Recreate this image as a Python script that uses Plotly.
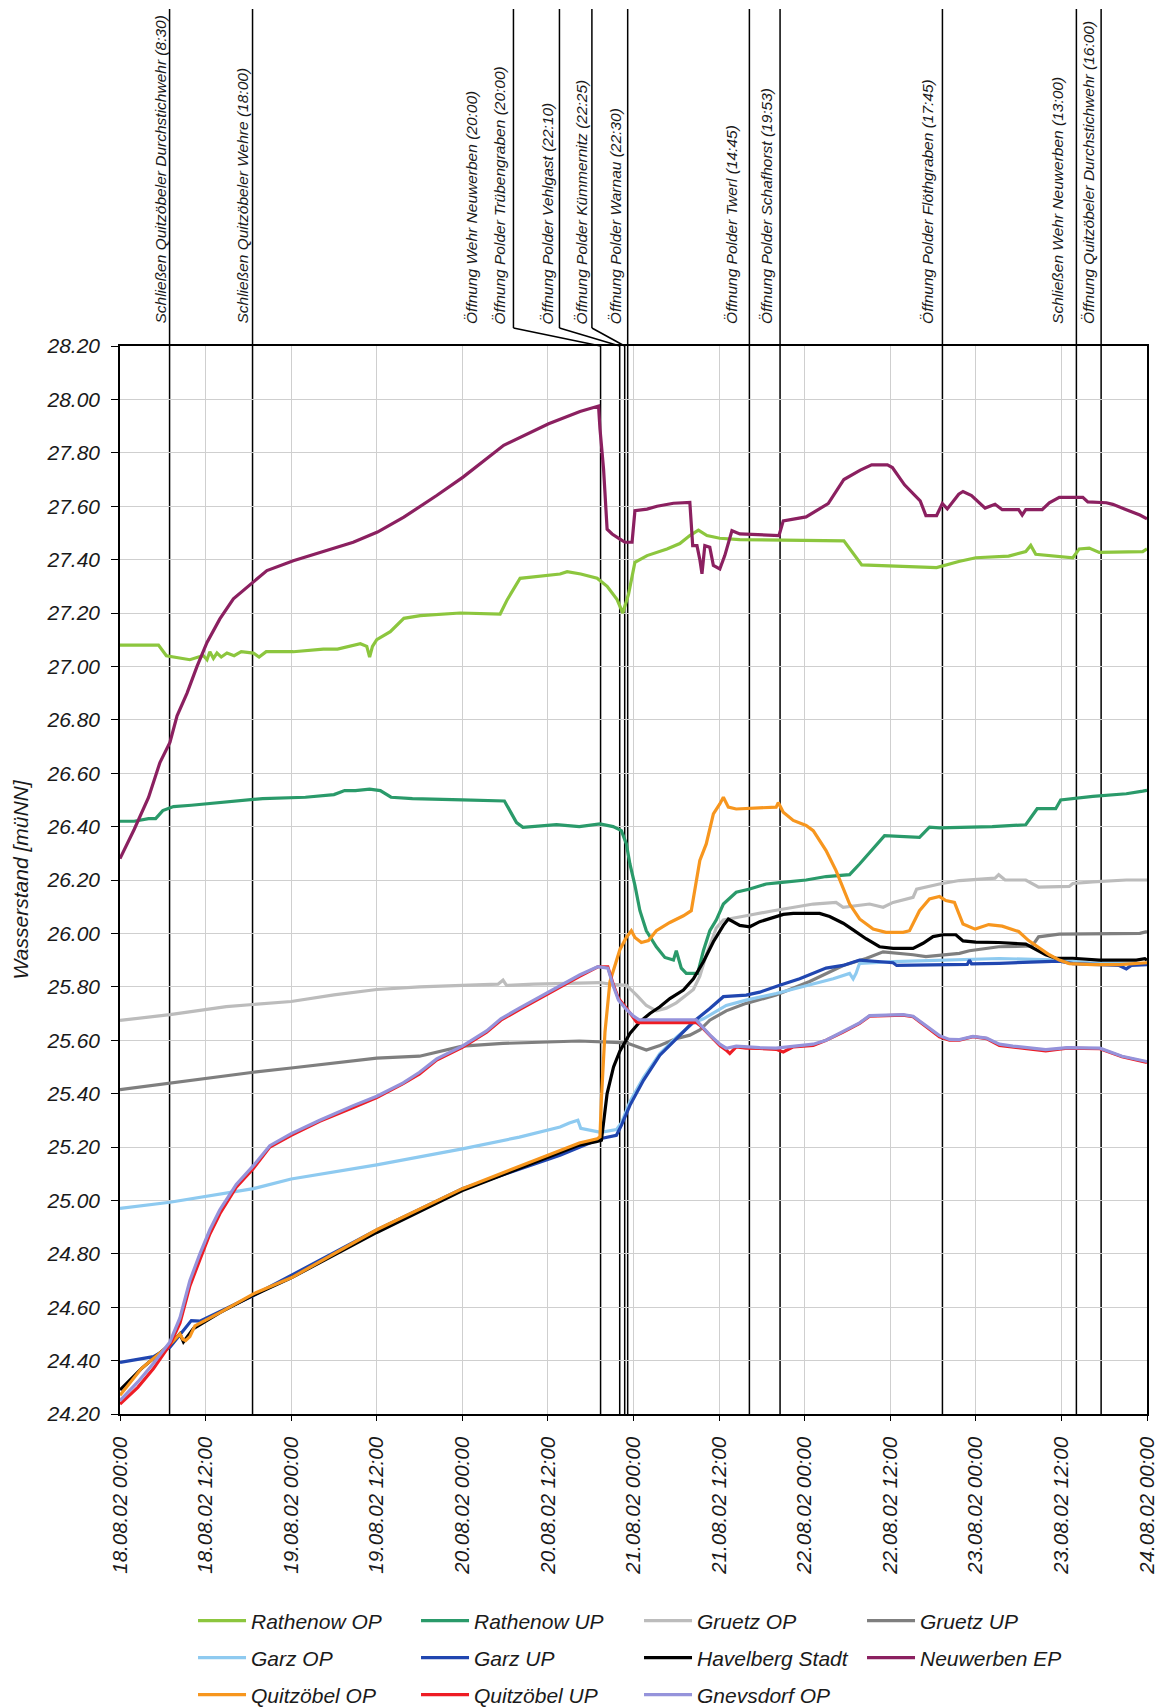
import pandas as pd
import plotly.graph_objects as go

T0 = pd.Timestamp("2002-08-18 00:00")
T_END = pd.Timestamp("2002-08-24 00:00")

# Gauge readings: (hours after 18.08.02 00:00, water level [m ü. NN])
rathenow_op = [
    (0, 27.08), (5.4, 27.08), (6.5, 27.04), (7.5, 27.035), (9.8, 27.025), (11.0, 27.035),
    (11.7, 27.04), (12.2, 27.025), (12.6, 27.055), (13.1, 27.03), (13.6, 27.05), (14.2, 27.035),
    (15.0, 27.05), (16.0, 27.04), (17.0, 27.055), (18.7, 27.05), (19.5, 27.035), (20.5, 27.055),
    (24.3, 27.055), (28.5, 27.065), (30.5, 27.065), (33.7, 27.085), (34.6, 27.075), (35.0, 27.035),
    (35.4, 27.075), (36.0, 27.10), (37.9, 27.13), (39.8, 27.18), (42.1, 27.19), (47.7, 27.20),
    (53.3, 27.196), (54.3, 27.25), (56.1, 27.33), (61.7, 27.346), (62.7, 27.355), (64.6, 27.346),
    (66.9, 27.33), (68.3, 27.30), (69.7, 27.25), (70.5, 27.20), (71.3, 27.27), (72.2, 27.39),
    (73.9, 27.415), (76.7, 27.44), (78.5, 27.46), (79.9, 27.49), (81.1, 27.51), (82.3, 27.49),
    (84.1, 27.48), (86.9, 27.475), (101.5, 27.47), (104.0, 27.38), (114.5, 27.37), (117.6, 27.393),
    (120.0, 27.407), (124.6, 27.413), (127.0, 27.43), (127.7, 27.453), (128.4, 27.42), (133.6, 27.407),
    (134.5, 27.44), (135.9, 27.443), (137.3, 27.427), (143.4, 27.43), (144, 27.44),
]
rathenow_up = [
    (0, 26.42), (2, 26.42), (4, 26.43), (5, 26.43), (6, 26.46), (7.5, 26.475), (10, 26.48),
    (12, 26.485), (14, 26.49), (17, 26.50), (20, 26.505), (26, 26.51), (30, 26.52), (31.5, 26.535),
    (33, 26.535), (35, 26.54), (36.5, 26.535), (38, 26.51), (41, 26.505), (48, 26.50), (53.9, 26.496),
    (55.6, 26.415), (56.5, 26.397), (61.2, 26.407), (64.4, 26.40), (67.3, 26.41), (69.15, 26.40),
    (70.3, 26.385), (71.0, 26.335), (71.5, 26.26), (72.2, 26.18), (72.9, 26.085), (73.8, 26.01),
    (75.2, 25.95), (76.4, 25.91), (77.6, 25.90), (78.0, 25.935), (78.7, 25.87), (79.4, 25.85),
    (81.0, 25.85), (81.8, 25.935), (82.7, 26.01), (83.6, 26.05), (84.6, 26.11), (86.4, 26.154),
    (88.3, 26.166), (90.6, 26.185), (92.5, 26.19), (96.2, 26.20), (99.0, 26.213), (102.3, 26.22),
    (103.7, 26.26), (105.6, 26.32), (107.2, 26.366), (112.1, 26.36), (113.5, 26.398), (114.9, 26.395),
    (122.3, 26.40), (127.0, 26.407), (127.7, 26.433), (128.6, 26.467), (131.2, 26.467), (131.9, 26.50),
    (136.4, 26.513), (141.1, 26.523), (143.4, 26.533), (144, 26.536),
]
gruetz_op = [
    (0, 25.674), (7, 25.696), (14.9, 25.726), (24, 25.745), (30, 25.77), (36, 25.79), (42, 25.80),
    (48, 25.804), (53.0, 25.81), (53.7, 25.825), (54.2, 25.805), (58, 25.81), (64.4, 25.815),
    (67.3, 25.816), (68.7, 25.81), (71.0, 25.806), (72.4, 25.77), (73.8, 25.73), (75.2, 25.71),
    (76.6, 25.72), (78.0, 25.74), (79.4, 25.77), (80.4, 25.79), (81.3, 25.84), (82.2, 25.92),
    (83.2, 25.99), (83.6, 26.02), (84.6, 26.05), (85.5, 26.054), (87.8, 26.066), (91.6, 26.085),
    (94.4, 26.098), (97.2, 26.11), (100.4, 26.116), (101.4, 26.098), (105.1, 26.11), (107.0, 26.098),
    (108.4, 26.116), (111.2, 26.135), (111.7, 26.166), (114.9, 26.185), (117.7, 26.198), (122.7, 26.207),
    (123.2, 26.22), (124.1, 26.20), (127.0, 26.20), (128.8, 26.173), (133.1, 26.176), (133.6, 26.187),
    (136.4, 26.193), (141.1, 26.20), (144, 26.20),
]
gruetz_up = [
    (0, 25.415), (7, 25.44), (18.7, 25.48), (24, 25.496), (36, 25.533), (42, 25.54), (48, 25.578),
    (53.7, 25.588), (64.4, 25.597), (71.0, 25.59), (72.4, 25.575), (73.8, 25.563), (75.7, 25.58),
    (78.0, 25.606), (79.9, 25.619), (81.3, 25.638), (82.7, 25.675), (85.0, 25.71), (87.8, 25.738),
    (92.0, 25.769), (96.7, 25.82), (101.4, 25.88), (104.6, 25.906), (107.0, 25.931), (111.2, 25.92),
    (113.0, 25.913), (117.7, 25.925), (119.1, 25.935), (123.2, 25.95), (127.9, 25.953), (128.8, 25.987),
    (131.7, 25.997), (143, 26.0), (144, 26.007),
]
garz_op = [
    (0, 24.97), (7, 24.993), (18.7, 25.044), (24, 25.08), (36, 25.133), (42, 25.163), (48, 25.193),
    (56, 25.237), (61.7, 25.275), (63.0, 25.29), (64.2, 25.30), (64.6, 25.27), (66.4, 25.26),
    (67.4, 25.255), (69.6, 25.265), (70.3, 25.29), (71.5, 25.37), (73.4, 25.46), (75.7, 25.55),
    (78.0, 25.61), (80.4, 25.665), (81.8, 25.68), (85.0, 25.73), (87.8, 25.75), (92.0, 25.775),
    (96.7, 25.806), (100.0, 25.83), (102.3, 25.85), (102.8, 25.83), (103.2, 25.85), (103.7, 25.888),
    (108.4, 25.894), (117.7, 25.90), (123.3, 25.906), (131.7, 25.90), (136, 25.89), (144, 25.885),
]
garz_up = [
    (0, 24.393), (4.7, 24.415), (7, 24.45), (9.3, 24.526), (10, 24.55), (11.2, 24.548), (18.7, 24.644),
    (36, 24.889), (48, 25.044), (61.7, 25.169), (64.5, 25.20), (67.3, 25.231), (69.6, 25.244),
    (70.3, 25.281), (71.5, 25.356), (73.4, 25.45), (75.7, 25.544), (78.0, 25.606), (80.4, 25.669),
    (82.7, 25.719), (84.6, 25.763), (87.8, 25.769), (89.7, 25.78), (92.5, 25.806), (95.3, 25.83),
    (99.0, 25.87), (101.4, 25.88), (103.7, 25.90), (108.4, 25.89), (108.9, 25.88), (117.7, 25.884),
    (118.8, 25.884), (119.1, 25.90), (119.4, 25.886), (123.3, 25.888), (131.7, 25.896), (133.6, 25.887),
    (140.1, 25.88), (141.1, 25.867), (141.8, 25.88), (144, 25.883),
]
havelberg_stadt = [
    (0, 24.29), (3, 24.37), (7, 24.46), (8.4, 24.50), (8.9, 24.47), (9.5, 24.49), (10.3, 24.52),
    (14, 24.58), (18.7, 24.645), (24, 24.71), (36, 24.88), (48, 25.037), (61.7, 25.18), (64.4, 25.207),
    (66.9, 25.221), (67.5, 25.225), (68.3, 25.40), (69.2, 25.50), (70.1, 25.56), (71.5, 25.625),
    (72.9, 25.669), (74.3, 25.70), (75.7, 25.725), (77.1, 25.756), (79.0, 25.788), (80.4, 25.83),
    (81.8, 25.894), (83.2, 25.969), (84.6, 26.03), (85.3, 26.054), (86.9, 26.03), (88.3, 26.025),
    (89.7, 26.044), (91.6, 26.059), (93.0, 26.071), (94.4, 26.075), (98.1, 26.075), (99.5, 26.063),
    (101.4, 26.038), (102.8, 26.013), (104.6, 25.98), (106.5, 25.95), (108.4, 25.944), (111.2, 25.944),
    (112.6, 25.963), (114.0, 25.988), (115.4, 25.995), (117.2, 25.995), (118.2, 25.972), (120.0, 25.967),
    (123.2, 25.966), (127.0, 25.96), (127.9, 25.947), (129.8, 25.92), (131.2, 25.907), (133.6, 25.907),
    (137.3, 25.90), (142.5, 25.90), (143.7, 25.905), (144, 25.90),
]
neuwerben_ep = [
    (0, 26.28), (2, 26.39), (4.0, 26.509), (5.6, 26.64), (7.0, 26.715), (8.0, 26.815), (9.4, 26.90),
    (10.8, 27.0), (12.2, 27.09), (14.0, 27.178), (15.9, 27.253), (18.6, 27.313), (20.6, 27.359),
    (24.3, 27.396), (28.1, 27.428), (32.7, 27.465), (36.1, 27.503), (39.8, 27.559), (44.4, 27.64),
    (48.1, 27.709), (53.8, 27.828), (60.1, 27.909), (64.5, 27.955), (66.7, 27.971), (67.1, 27.975),
    (67.3, 27.89), (67.8, 27.74), (68.3, 27.514), (69.0, 27.496), (70.1, 27.477), (70.8, 27.465),
    (71.8, 27.465), (72.2, 27.583), (73.9, 27.589), (75.3, 27.60), (77.6, 27.611), (79.9, 27.614),
    (80.3, 27.452), (80.9, 27.452), (81.3, 27.40), (81.6, 27.347), (82.0, 27.452), (82.7, 27.446),
    (83.2, 27.378), (84.1, 27.365), (84.8, 27.415), (85.8, 27.508), (86.9, 27.496), (92.4, 27.49),
    (93.0, 27.545), (96.2, 27.56), (99.3, 27.61), (101.5, 27.70), (103.8, 27.735), (105.4, 27.755),
    (107.6, 27.755), (108.3, 27.745), (110.0, 27.68), (112.2, 27.62), (113.0, 27.565), (114.5, 27.565),
    (115.3, 27.61), (116.0, 27.59), (117.6, 27.645), (118.2, 27.655), (119.4, 27.64), (121.3, 27.593),
    (122.7, 27.607), (123.7, 27.587), (126.0, 27.587), (126.5, 27.567), (127.0, 27.587), (129.3, 27.587),
    (130.3, 27.613), (131.7, 27.633), (135.0, 27.633), (135.7, 27.616), (138.3, 27.613), (139.2, 27.607),
    (141.1, 27.587), (143.0, 27.567), (144, 27.553),
]
quitzoebel_op = [
    (0, 24.27), (3, 24.37), (7, 24.46), (8.4, 24.50), (8.8, 24.48), (9.2, 24.475), (9.8, 24.49),
    (10.5, 24.53), (14, 24.58), (18.7, 24.65), (24, 24.71), (36, 24.89), (48, 25.044), (61.7, 25.188),
    (64.4, 25.215), (66.9, 25.231), (67.3, 25.238), (67.5, 25.38), (68.0, 25.63), (68.7, 25.82),
    (69.4, 25.88), (70.1, 25.94), (71.0, 25.985), (71.7, 26.01), (72.2, 25.985), (73.1, 25.966),
    (74.1, 25.973), (75.2, 26.01), (77.1, 26.041), (79.0, 26.066), (80.1, 26.085), (80.6, 26.16),
    (81.3, 26.273), (82.2, 26.335), (83.2, 26.448), (84.1, 26.485), (84.6, 26.51), (85.3, 26.473),
    (86.4, 26.466), (92.0, 26.473), (92.3, 26.49), (93.0, 26.454), (94.4, 26.423), (96.2, 26.404),
    (97.2, 26.385), (99.0, 26.31), (100.4, 26.235), (102.3, 26.11), (103.7, 26.054), (105.6, 26.016),
    (107.4, 26.004), (109.8, 26.004), (110.7, 26.01), (112.1, 26.085), (113.5, 26.129), (114.9, 26.138),
    (115.8, 26.123), (117.0, 26.116), (118.2, 26.035), (119.9, 26.016), (121.8, 26.033), (123.7, 26.027),
    (126.0, 26.007), (127.4, 25.973), (128.8, 25.947), (130.3, 25.92), (131.7, 25.90), (133.1, 25.887),
    (136.4, 25.883), (140.1, 25.883), (144, 25.89),
]
quitzoebel_up = [
    (0, 24.237), (2.5, 24.30), (4.7, 24.37), (7.0, 24.46), (8.4, 24.54), (9.8, 24.68), (11.2, 24.778),
    (12.6, 24.874), (14.0, 24.95), (16.3, 25.05), (18.7, 25.12), (21, 25.20), (24, 25.244), (28, 25.296),
    (32.7, 25.348), (36, 25.385), (39.7, 25.437), (42, 25.474), (44.4, 25.526), (48, 25.573),
    (51.4, 25.63), (53.4, 25.675), (56, 25.715), (60, 25.775), (61.7, 25.80), (64.5, 25.84),
    (67.0, 25.875), (68.4, 25.875), (69.2, 25.806), (69.9, 25.756), (71.0, 25.72), (72.4, 25.669),
    (72.8, 25.666), (80.8, 25.666), (81.3, 25.656), (82.7, 25.619), (84.1, 25.58), (85.0, 25.563),
    (85.5, 25.55), (86.4, 25.575), (87.8, 25.57), (89.7, 25.569), (92.0, 25.566), (93.0, 25.556),
    (94.4, 25.575), (97.2, 25.58), (99.0, 25.60), (101.4, 25.63), (103.7, 25.663), (105.1, 25.69),
    (109.8, 25.694), (111.2, 25.688), (113.0, 25.65), (114.9, 25.613), (116.3, 25.60), (117.7, 25.60),
    (119.6, 25.613), (121.5, 25.606), (123.3, 25.58), (125.2, 25.575), (129.8, 25.56), (132.8, 25.57),
    (137.4, 25.568), (140.5, 25.538), (144, 25.517),
]
gnevsdorf_op = [
    (0, 24.25), (2.5, 24.32), (4.7, 24.39), (7.0, 24.47), (8.4, 24.56), (9.8, 24.70), (11.2, 24.80),
    (12.6, 24.89), (14.0, 24.965), (16.3, 25.06), (18.7, 25.13), (21, 25.205), (24, 25.25), (28, 25.30),
    (32.7, 25.355), (36, 25.39), (39.7, 25.44), (42, 25.48), (44.4, 25.53), (48, 25.578), (51.4, 25.635),
    (53.4, 25.68), (56, 25.72), (60, 25.78), (64.5, 25.845), (67.0, 25.875), (68.4, 25.87), (69.2, 25.80),
    (69.9, 25.75), (71.0, 25.715), (72.0, 25.69), (72.8, 25.676), (80.8, 25.676), (81.3, 25.66),
    (82.7, 25.62), (84.1, 25.585), (85.0, 25.57), (86.4, 25.578), (87.8, 25.575), (89.7, 25.572),
    (92.0, 25.57), (94.4, 25.578), (97.2, 25.585), (99.0, 25.60), (101.4, 25.632), (103.7, 25.665),
    (105.1, 25.692), (109.8, 25.696), (111.2, 25.69), (113.0, 25.655), (114.9, 25.617), (116.3, 25.603),
    (117.7, 25.602), (119.6, 25.614), (121.5, 25.608), (123.3, 25.585), (125.2, 25.578), (129.8, 25.565),
    (132.8, 25.572), (137.4, 25.57), (140.5, 25.54), (144, 25.52),
]

series = [
    ("Rathenow OP", rathenow_op, "#8cc63e"),
    ("Rathenow UP", rathenow_up, "#2a9a6a"),
    ("Gruetz OP", gruetz_op, "#bcbcbc"),
    ("Gruetz UP", gruetz_up, "#7f7f7f"),
    ("Garz OP", garz_op, "#8ecaf0"),
    ("Garz UP", garz_up, "#2046b0"),
    ("Havelberg Stadt", havelberg_stadt, "#000000"),
    ("Neuwerben EP", neuwerben_ep, "#8b2060"),
    ("Quitzöbel OP", quitzoebel_op, "#f7961e"),
    ("Quitzöbel UP", quitzoebel_up, "#ee1c24"),
    ("Gnevsdorf OP", gnevsdorf_op, "#9593db"),
]

# Operating events (weirs and polders), drawn as vertical markers
event_times = [
    "2002-08-18 06:57", "2002-08-18 18:35", "2002-08-20 19:23", "2002-08-20 22:04",
    "2002-08-20 22:46", "2002-08-20 23:11", "2002-08-21 16:15", "2002-08-21 20:33",
    "2002-08-22 19:19", "2002-08-23 14:06", "2002-08-23 17:34",
]
event_labels = [
    ("Schließen Quitzöbeler Durchstichwehr (8:30)", 0),
    ("Schließen Quitzöbeler Wehre (18:00)", 1),
    ("Öffnung Wehr Neuwerben (20:00)", 2),
    ("Öffnung Polder Trübengraben (20:00)", 2),
    ("Öffnung Polder Vehlgast (22:10)", 3),
    ("Öffnung Polder Kümmernitz (22:25)", 4),
    ("Öffnung Polder Warnau (22:30)", 5),
    ("Öffnung Polder Twerl (14:45)", 6),
    ("Öffnung Polder Schafhorst (19:53)", 7),
    ("Öffnung Polder Flöthgraben (17:45)", 8),
    ("Schließen Wehr Neuwerben (13:00)", 9),
    ("Öffnung Quitzöbeler Durchstichwehr (16:00)", 10),
]

# Layout of the label area above the plot
leader_x = {2: "2002-08-20 07:10", 3: "2002-08-20 13:37", 4: "2002-08-20 18:10"}
label_xshift = [-10, -11, -42, -14, -12, -10, -12.5, -18, -14, -15, -19, -12.5]
PLOT_H = 1068
LINE_TOP = 1 + 337 / PLOT_H
KINK_Y = 1 + 18 / PLOT_H

FONT = "Liberation Sans, Arial, sans-serif"
TEXT = "#1a1a1a"

fig = go.Figure()
legend_rows = ["legend"] * 4 + ["legend2"] * 4 + ["legend3"] * 3
for (name, pts, color), leg in zip(series, legend_rows):
    hours, levels = zip(*pts)
    fig.add_trace(go.Scatter(
        x=[T0 + pd.Timedelta(hours=h) for h in hours],
        y=list(levels),
        mode="lines",
        name=name,
        line=dict(color=color, width=3.2),
        legend=leg,
    ))

shapes = []
line_style = dict(color="black", width=1.5)
for i, t in enumerate(event_times):
    if i in leader_x:
        lx = leader_x[i]
        shapes.append(dict(type="line", xref="x", yref="paper", x0=lx, x1=lx,
                           y0=KINK_Y, y1=LINE_TOP, line=line_style, layer="above"))
        shapes.append(dict(type="line", xref="x", yref="paper", x0=lx, x1=t,
                           y0=KINK_Y, y1=1, line=line_style, layer="above"))
        shapes.append(dict(type="line", xref="x", yref="paper", x0=t, x1=t,
                           y0=0, y1=1, line=line_style, layer="between"))
    else:
        shapes.append(dict(type="line", xref="x", yref="paper", x0=t, x1=t,
                           y0=0, y1=LINE_TOP, line=line_style, layer="between"))

annotations = []
for (text, idx), dx in zip(event_labels, label_xshift):
    annotations.append(dict(
        text=text, x=leader_x.get(idx, event_times[idx]), xref="x",
        y=1, yref="paper", yshift=20, xshift=dx,
        xanchor="center", yanchor="bottom", textangle=-90, showarrow=False,
        font=dict(family=FONT, size=15.5, color=TEXT, style="italic"),
    ))

legend_common = dict(
    orientation="h", x=0.0711, xanchor="left", yanchor="middle",
    entrywidth=160, entrywidthmode="pixels", itemwidth=48,
    bgcolor="rgba(0,0,0,0)", borderwidth=0, traceorder="normal",
    font=dict(family=FONT, size=21, color=TEXT, style="italic"),
)

fig.update_layout(
    width=1160, height=1708,
    margin=dict(l=120, r=13, t=346, b=294, autoexpand=False),
    paper_bgcolor="white", plot_bgcolor="white",
    showlegend=True,
    legend=dict(legend_common, y=-0.1938),
    legend2=dict(legend_common, y=-0.2285),
    legend3=dict(legend_common, y=-0.2631),
    shapes=shapes,
    annotations=annotations,
    xaxis=dict(
        type="date", range=[T0, T_END], tick0=T0, dtick=12 * 3600 * 1000,
        tickformat="%d.%m.%y %H:%M", tickangle=-90,
        ticks="outside", ticklen=5, tickcolor="black", ticklabelstandoff=8,
        showgrid=True, gridcolor="#cfcfcf", gridwidth=1.2,
        showline=True, linecolor="black", linewidth=1.5, mirror=True,
        zeroline=False, automargin=False,
        tickfont=dict(family=FONT, size=20.5, color=TEXT, style="italic"),
    ),
    yaxis=dict(
        range=[24.2, 28.2], tick0=24.2, dtick=0.2, tickformat=".2f",
        ticks="outside", ticklen=7, tickcolor="black", ticklabelstandoff=7,
        showgrid=True, gridcolor="#cfcfcf", gridwidth=1.2,
        showline=True, linecolor="black", linewidth=1.5, mirror=True,
        zeroline=False, automargin=False,
        tickfont=dict(family=FONT, size=21, color=TEXT, style="italic"),
        title=dict(text="Wasserstand [müNN]", standoff=12,
                   font=dict(family=FONT, size=21, color=TEXT, style="italic")),
    ),
)

fig.write_html("out.html", config={"displayModeBar": False})
